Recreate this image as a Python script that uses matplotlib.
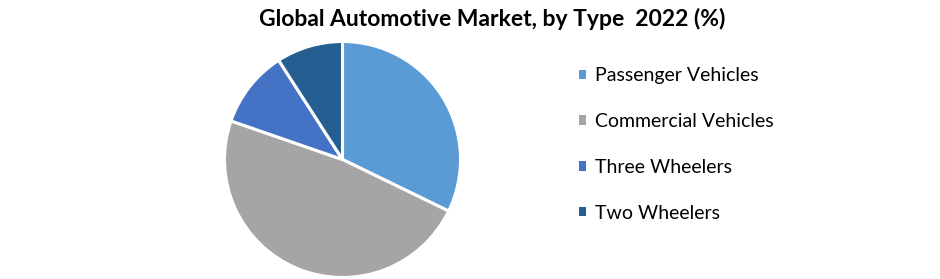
import matplotlib
matplotlib.use("Agg")
import matplotlib.pyplot as plt
from matplotlib.patches import Patch

categories = ["Passenger Vehicles", "Commercial Vehicles", "Three Wheelers", "Two Wheelers"]
shares = [32.2, 48.1, 10.6, 9.1]
colors = ["#5B9BD5", "#A5A5A5", "#4472C4", "#255E91"]
title = "Global Automotive Market, by Type  2022 (%)"

plt.rcParams['font.family'] = ['Lato', 'DejaVu Sans']

fig = plt.figure(figsize=(9.4, 2.79), dpi=100)
ax = fig.add_axes([342.5/940 - 118/940, (279-159.5-118)/279, 236/940, 236/279])
ax.pie(shares, colors=colors, startangle=90, counterclock=False,
       wedgeprops=dict(edgecolor="white", linewidth=2.2))
ax.set_aspect('equal')
ax.set_xlim(-1.0, 1.0)
ax.set_ylim(-1.0, 1.0)
ax.axis('off')

fig.text(492.5/940, 1 - 19/279, title, ha='center', va='center',
         fontsize=16.5, fontweight='bold', color='black')

handles = [Patch(facecolor=c, edgecolor='none') for c in colors]
leg = fig.legend(handles, categories, loc='center left',
                 bbox_to_anchor=(575/940, 1 - 144.5/279), frameon=False,
                 fontsize=14, labelspacing=1.48, handlelength=0.36,
                 handleheight=0.36, handletextpad=0.46, borderpad=0.2,
                 borderaxespad=0)
fig.savefig("out.png", dpi=100, facecolor='white')
